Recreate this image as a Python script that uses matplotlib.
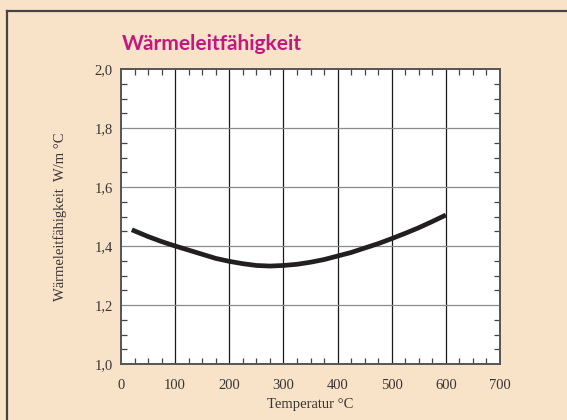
import numpy as np
import matplotlib
matplotlib.use("Agg")
import matplotlib.pyplot as plt
from matplotlib.ticker import MultipleLocator
from matplotlib.lines import Line2D

# curve (temperature in deg C, conductivity W/m C)
temp = [20, 50, 75, 100, 125, 150, 175, 200, 225, 250, 275, 300, 325, 350,
        375, 400, 425, 450, 475, 500, 525, 550, 575, 600]
lam = [1.455, 1.432, 1.415, 1.400, 1.386, 1.372, 1.358, 1.348, 1.340, 1.334,
       1.332, 1.334, 1.338, 1.345, 1.354, 1.366, 1.378, 1.393, 1.408, 1.425,
       1.443, 1.462, 1.483, 1.505]

xticks = [0, 100, 200, 300, 400, 500, 600, 700]
yticks = [1.0, 1.2, 1.4, 1.6, 1.8, 2.0]
ylabels = ["1,0", "1,2", "1,4", "1,6", "1,8", "2,0"]

bg = "#f8e3c8"
txt = "#3a3535"
serif = ["Liberation Serif", "DejaVu Serif"]

fig = plt.figure(figsize=(5.67, 4.20), dpi=100)
fig.patch.set_facecolor(bg)
# panel frame: only the top and left edges are inside the picture
x0, y0 = 7 / 567, 1 - 11 / 420
fig.add_artist(Line2D([x0, 1.0], [y0, y0], transform=fig.transFigure,
                      color="#444444", linewidth=1.6))
fig.add_artist(Line2D([x0, x0], [0.0, y0], transform=fig.transFigure,
                      color="#444444", linewidth=1.6))

ax = fig.add_axes([121 / 567, 1 - 364 / 420, (500 - 121) / 567, (364 - 69) / 420])
ax.set_facecolor("white")

ax.plot(temp, lam, color="#231f20", linewidth=3.4, solid_capstyle="butt", zorder=3)

ax.set_xlim(0, 700)
ax.set_ylim(1.0, 2.0)
ax.set_xticks(xticks)
ax.set_xticklabels([str(v) for v in xticks])
ax.set_yticks(yticks)
ax.set_yticklabels(ylabels)
ax.xaxis.set_minor_locator(MultipleLocator(25))
ax.yaxis.set_minor_locator(MultipleLocator(0.05))

for v in xticks[1:-1]:
    ax.axvline(v, color="#1a1a1a", linewidth=0.9, zorder=1)
for v in yticks[1:-1]:
    ax.axhline(v, color="#8a8a8a", linewidth=0.9, zorder=1)

ax.tick_params(which="major", length=0, pad=6, labelsize=10.5, labelcolor=txt)
ax.tick_params(axis="x", which="major", pad=11)
ax.tick_params(which="minor", direction="in", length=4, width=0.9,
               color="#444444", top=True, right=True, bottom=True, left=True)
for lbl in ax.get_xticklabels() + ax.get_yticklabels():
    lbl.set_family(serif)

for s in ax.spines.values():
    s.set_color("#555555")
    s.set_linewidth(1.4)

ax.set_xlabel("Temperatur °C", family=serif, fontsize=10.5, color=txt, labelpad=4)
ax.set_ylabel("Wärmeleitfähigkeit  W/m °C", family=serif, fontsize=10.5,
              color=txt, labelpad=20)

fig.text(122 / 567, 1 - 50 / 420, "Wärmeleitfähigkeit", family=["Lato", "DejaVu Sans"],
         fontweight="bold", fontsize=15, color="#c2187f", ha="left", va="baseline")

fig.savefig("out.png", dpi=100, facecolor=bg)
